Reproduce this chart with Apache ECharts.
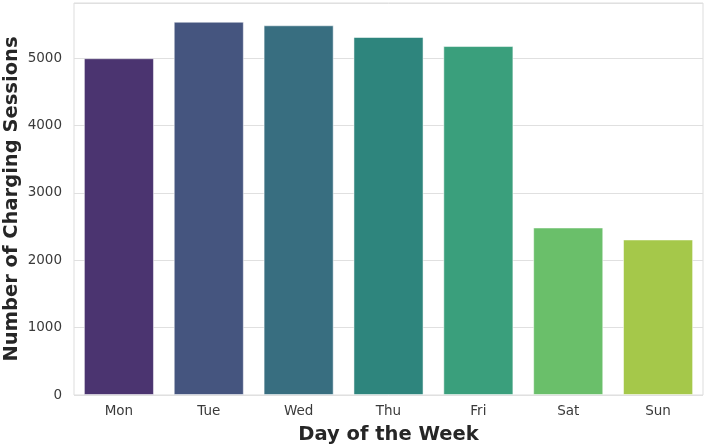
<!DOCTYPE html>
<html>
<head>
<meta charset="utf-8">
<script src="https://cdn.jsdelivr.net/npm/echarts@6/dist/echarts.min.js"></script>
<style>
html,body{margin:0;padding:0;background:#fff;}
#chart{width:708px;height:446px;}
</style>
</head>
<body>
<div id="chart"></div>
<script>
var days = ['Mon', 'Tue', 'Wed', 'Thu', 'Fri', 'Sat', 'Sun'];
var sessions = [5000, 5542, 5489, 5315, 5181, 2487, 2309];
var barColors = ['#4b3470', '#45557f', '#386e80', '#2e857d', '#3a9f7c', '#6abf6a', '#a5c84a'];
var yTicks = [0, 1000, 2000, 3000, 4000, 5000];

var chart = echarts.init(document.getElementById('chart'));

var option = {
    animation: false,
    backgroundColor: '#fff',
    grid: {
        left: 74,
        right: 5,
        top: 3,
        bottom: 51,
        containLabel: false,
        outerBoundsMode: 'none',
        show: true,
        borderColor: '#dddddd',
        borderWidth: 1
    },
    xAxis: {
        type: 'category',
        data: days,
        name: 'Day of the Week',
        nameLocation: 'middle',
        nameGap: 30,
        nameTextStyle: {fontFamily: 'DejaVu Sans', fontWeight: 'bold', fontSize: 19.5, color: '#262626'},
        axisLine: {show: false},
        axisTick: {show: false},
        axisLabel: {fontFamily: 'DejaVu Sans', fontSize: 13.5, color: '#3a3a3a', margin: 9},
        splitLine: {show: false}
    },
    yAxis: {
        type: 'value',
        min: 0,
        max: 5820,
        interval: 1000,
        name: 'Number of Charging Sessions',
        nameLocation: 'middle',
        nameGap: 52,
        nameMoveOverlap: false,
        nameTextStyle: {fontFamily: 'DejaVu Sans', fontWeight: 'bold', fontSize: 19.5, color: '#262626'},
        axisLine: {show: false},
        axisTick: {show: false},
        axisLabel: {
            fontFamily: 'DejaVu Sans', fontSize: 13.5, color: '#3a3a3a', margin: 12,
            showMaxLabel: false,
            formatter: function (v) { return yTicks.indexOf(v) >= 0 ? String(v) : ''; }
        },
        splitLine: {lineStyle: {color: '#e0e0e0', width: 1}}
    },
    series: [{
        type: 'bar',
        data: sessions.map(function (v, i) {
            return {value: v, itemStyle: {color: barColors[i]}};
        }),
        barWidth: '78%',
        itemStyle: {borderColor: 'rgba(255,255,255,0.5)', borderWidth: 1}
    }]
};

chart.setOption(option);
</script>
</body>
</html>
